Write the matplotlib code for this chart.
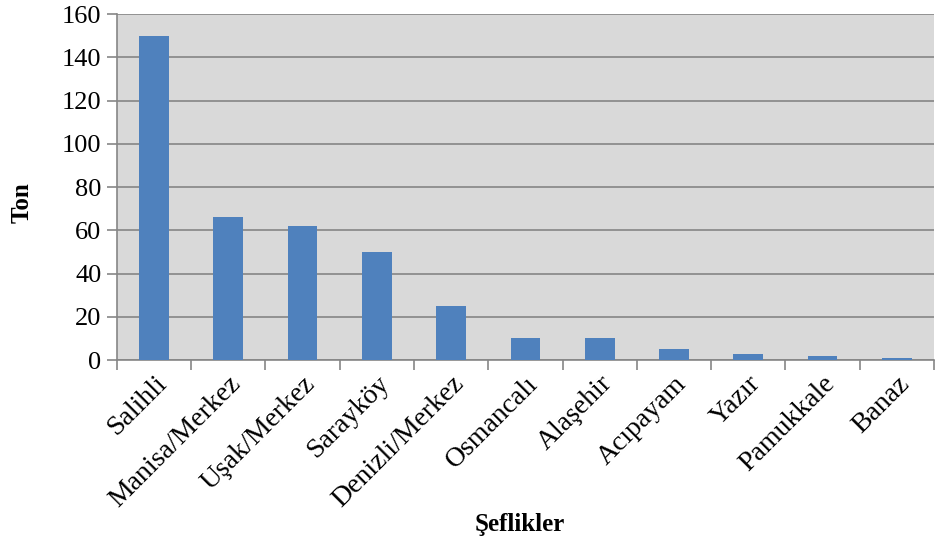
import numpy as np
import matplotlib.pyplot as plt

# Data
sefilkler = ['Salihli', 'Manisa/Merkez', 'Uşak/Merkez', 'Sarayköy', 'Denizli/Merkez',
             'Osmancalı', 'Alaşehir', 'Acıpayam', 'Yazır', 'Pamukkale', 'Banaz']
ton = [150, 66, 62, 50, 25, 10, 10, 5, 3, 2, 1]

plt.rcParams['font.family'] = ['Liberation Serif', 'DejaVu Serif']

fig = plt.figure(figsize=(9.35, 5.48), dpi=100)
ax = fig.add_axes([0.125, 0.343, 0.874, 0.631])

x = np.arange(len(sefilkler))
ax.bar(x, ton, width=0.4, color='#4f81bd', zorder=3)

ax.set_facecolor('#d9d9d9')
ax.set_xlim(-0.5, len(sefilkler) - 0.5)
ax.set_ylim(0, 160)
ax.set_yticks(np.arange(0, 161, 20))
ax.grid(axis='y', color='#868686', linewidth=1.2, zorder=0)

# ticks on category boundaries
ax.set_xticks(np.arange(-0.5, len(sefilkler), 1))
ax.set_xticklabels([])
ax.set_xticks(x, minor=True)
ax.set_xticklabels(sefilkler, minor=True, rotation=45, ha='right',
                   rotation_mode='anchor', fontsize=20)
ax.tick_params(axis='x', which='minor', length=0, pad=8)
ax.tick_params(axis='x', which='major', length=7, width=1.2, color='#868686')
ax.tick_params(axis='y', length=7, width=1.2, color='#868686', labelsize=19, pad=4)

for s in ['top', 'right']:
    ax.spines[s].set_visible(False)
for s in ['left', 'bottom']:
    ax.spines[s].set_color('#868686')
    ax.spines[s].set_linewidth(1.2)

fig.text(0.024, 0.63, 'Ton', fontsize=18, fontweight='bold', rotation=90,
         ha='center', va='center')
fig.text(0.556, 0.042, 'Şeflikler', fontsize=18, fontweight='bold', ha='center', va='center')

plt.savefig('out.png', dpi=100)
